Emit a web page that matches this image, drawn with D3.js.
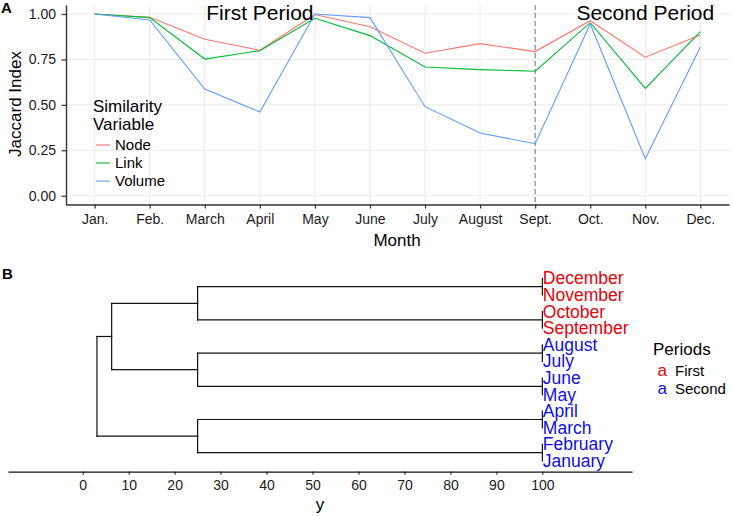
<!DOCTYPE html>
<html>
<head>
<meta charset="utf-8">
<script src="https://cdn.jsdelivr.net/npm/d3@7"></script>
<style>
html,body{margin:0;padding:0;background:#fff;}
svg{display:block;font-family:"Liberation Sans",Arial,Helvetica,sans-serif;}
</style>
</head>
<body>
<svg id="chart" width="733" height="516"></svg>
<script>
// ---------- Panel A data ----------
const months = ["Jan.","Feb.","March","April","May","June","July","August","Sept.","Oct.","Nov.","Dec."];
const nodeValues   = [1.000,0.982,0.861,0.800,0.997,0.930,0.784,0.837,0.793,0.963,0.762,0.884];
const linkValues   = [1.000,0.980,0.752,0.798,0.976,0.881,0.708,0.694,0.685,0.952,0.591,0.903];
const volumeValues = [1.000,0.967,0.587,0.461,1.000,0.980,0.490,0.345,0.286,0.945,0.204,0.818];
const seriesNames  = ["Node","Link","Volume"];
const seriesColors = ["#F8766D","#00BA38","#619CFF"];
const yTicks = [0,0.25,0.5,0.75,1];
const periodMarkers = [{month:"April",label:"First Period"},{month:"Nov.",label:"Second Period"}];
const splitMonth = "Sept.";

// ---------- Panel B data ----------
// leaves listed top to bottom
const leafNames = ["December","November","October","September","August","July","June","May","April","March","February","January"];
const leafPeriod = ["First","First","First","First","Second","Second","Second","Second","Second","Second","Second","Second"];
const periodNames = ["First","Second"];
const periodColors = ["#e8000b","#1010dd"];
const pairHeight = 100, quadHeight = 25, midHeight = 6.3, rootHeight = 3.1;
const dendroTicks = [0,10,20,30,40,50,60,70,80,90,100];

const svg = d3.select("#chart");
const FONT = '"Liberation Sans",Arial,Helvetica,sans-serif';

// ================= PANEL A =================
const x = d3.scalePoint().domain(months).range([66,729]).padding(0.52);
const y = d3.scaleLinear().domain([-0.05,1.05]).range([204.8,4.9]);

const gA = svg.append("g");
// grid
gA.selectAll(".hg").data(yTicks).join("line")
  .attr("x1",66).attr("x2",729).attr("y1",d=>y(d)).attr("y2",d=>y(d))
  .attr("stroke","#ebebeb").attr("stroke-width",1);
gA.selectAll(".vg").data(months).join("line")
  .attr("x1",d=>x(d)).attr("x2",d=>x(d)).attr("y1",y(1.05)).attr("y2",y(-0.05))
  .attr("stroke","#ebebeb").attr("stroke-width",1);

// dashed split line
gA.append("line").attr("x1",x(splitMonth)).attr("x2",x(splitMonth))
  .attr("y1",y(1.05)).attr("y2",y(-0.05))
  .attr("stroke","#7f7f7f").attr("stroke-width",1.1).attr("stroke-dasharray","5,3");

// lines
const allSeries = [nodeValues,linkValues,volumeValues];
const line = d3.line().x((d,i)=>x(months[i])).y(d=>y(d));
allSeries.forEach((vals,k)=>{
  gA.append("path").datum(vals).attr("d",line).attr("fill","none")
    .attr("stroke",seriesColors[k]).attr("stroke-width",1.1);
});

// axes
const yAxis = d3.axisLeft(y).tickValues(yTicks).tickFormat(d3.format(".2f")).tickSize(4.5).tickSizeOuter(0).tickPadding(5.5);
const gy = gA.append("g").attr("transform","translate(66,0)").call(yAxis);
const xAxis = d3.axisBottom(x).tickSize(4).tickSizeOuter(0).tickPadding(5.6);
const gx = gA.append("g").attr("transform","translate(0,204.5)").call(xAxis);
[gy,gx].forEach(g=>{
  g.select(".domain").attr("stroke","#333").attr("stroke-width",1.4);
  g.selectAll(".tick line").attr("stroke","#333").attr("stroke-width",1.2);
  g.selectAll(".tick text").attr("fill","#1a1a1a").style("font-size","14px").style("font-family",FONT);
});

// period labels
gA.selectAll(".plab").data(periodMarkers).join("text")
  .attr("x",d=>x(d.month)).attr("y",20).attr("text-anchor","middle")
  .style("font-size","21px").attr("fill","#000").text(d=>d.label);

// axis titles
gA.append("text").attr("x",397).attr("y",245.7).attr("text-anchor","middle")
  .style("font-size","17px").text("Month");
gA.append("text").attr("transform","translate(21,104) rotate(-90)").attr("text-anchor","middle")
  .style("font-size","17px").text("Jaccard Index");

// legend A
const lg = gA.append("g");
lg.append("text").attr("x",93).attr("y",111.5).style("font-size","17px").text("Similarity");
lg.append("text").attr("x",93).attr("y",130).style("font-size","17px").text("Variable");
seriesNames.forEach((n,i)=>{
  const yy = 145 + i*18;
  lg.append("line").attr("x1",96).attr("x2",110).attr("y1",yy).attr("y2",yy)
    .attr("stroke",seriesColors[i]).attr("stroke-width",1.1);
  lg.append("text").attr("x",115).attr("y",yy+5.3).style("font-size","15px").text(n);
});

// panel letters
svg.append("text").attr("x",1).attr("y",13).style("font-size","15px").style("font-weight","bold").text("A");
svg.append("text").attr("x",2).attr("y",279).style("font-size","15px").style("font-weight","bold").text("B");

// ================= PANEL B =================
const xd = d3.scaleLinear().domain([-16.25,119.5]).range([8,632]);
const yd = d3.scalePoint().domain(leafNames).range([278.4,461]);

function pair(a,b){ return {h:pairHeight, children:[{name:a,h:pairHeight},{name:b,h:pairHeight}]}; }
const treeData = {h:rootHeight, children:[
  {h:midHeight, children:[
    {h:quadHeight, children:[pair("December","November"), pair("October","September")]},
    {h:quadHeight, children:[pair("August","July"), pair("June","May")]}
  ]},
  {h:quadHeight, children:[pair("April","March"), pair("February","January")]}
]};
const root = d3.hierarchy(treeData);
root.eachAfter(n=>{
  if(!n.children){ n.py = yd(n.data.name); }
  else { n.py = d3.mean([n.children[0].py, n.children[n.children.length-1].py]); }
});
const segs = [];
root.each(n=>{
  if(n.children){
    const cs = n.children;
    segs.push([xd(n.data.h), cs[0].py, xd(n.data.h), cs[cs.length-1].py]);
    cs.forEach(c=>{ if(c.children) segs.push([xd(n.data.h), c.py, xd(c.data.h), c.py]); });
  }
});
const gB = svg.append("g");
gB.selectAll(".seg").data(segs).join("line")
  .attr("x1",d=>d[0]).attr("y1",d=>d[1]).attr("x2",d=>d[2]).attr("y2",d=>d[3])
  .attr("stroke","#111").attr("stroke-width",1.2).attr("stroke-linecap","square");

// leaf labels
gB.selectAll(".leaf").data(leafNames).join("text")
  .attr("x",xd(pairHeight)+0.5).attr("y",d=>yd(d)+6)
  .attr("fill",(d,i)=>periodColors[periodNames.indexOf(leafPeriod[i])])
  .style("font-size","17.5px").text(d=>d);

// axis
const dAxis = d3.axisBottom(xd).tickValues(dendroTicks).tickSize(3).tickSizeOuter(0).tickPadding(5.3);
const gd = gB.append("g").attr("transform","translate(0,471.7)").call(dAxis);
gd.select(".domain").attr("stroke","#111").attr("stroke-width",1.2);
gd.selectAll(".tick line").attr("stroke","#111");
gd.selectAll(".tick text").attr("fill","#1a1a1a").style("font-size","14px").style("font-family",FONT);
gB.append("text").attr("x",320).attr("y",510).attr("text-anchor","middle").style("font-size","17px").text("y");

// legend B
const lb = gB.append("g");
lb.append("text").attr("x",653).attr("y",355).style("font-size","17px").text("Periods");
periodNames.forEach((p,i)=>{
  const yy = 375.5 + i*18.5;
  lb.append("text").attr("x",657.5).attr("y",yy).attr("fill",periodColors[i]).style("font-size","17px").text("a");
  lb.append("text").attr("x",675).attr("y",yy).style("font-size","15px").text(p);
});
</script>
</body>
</html>
